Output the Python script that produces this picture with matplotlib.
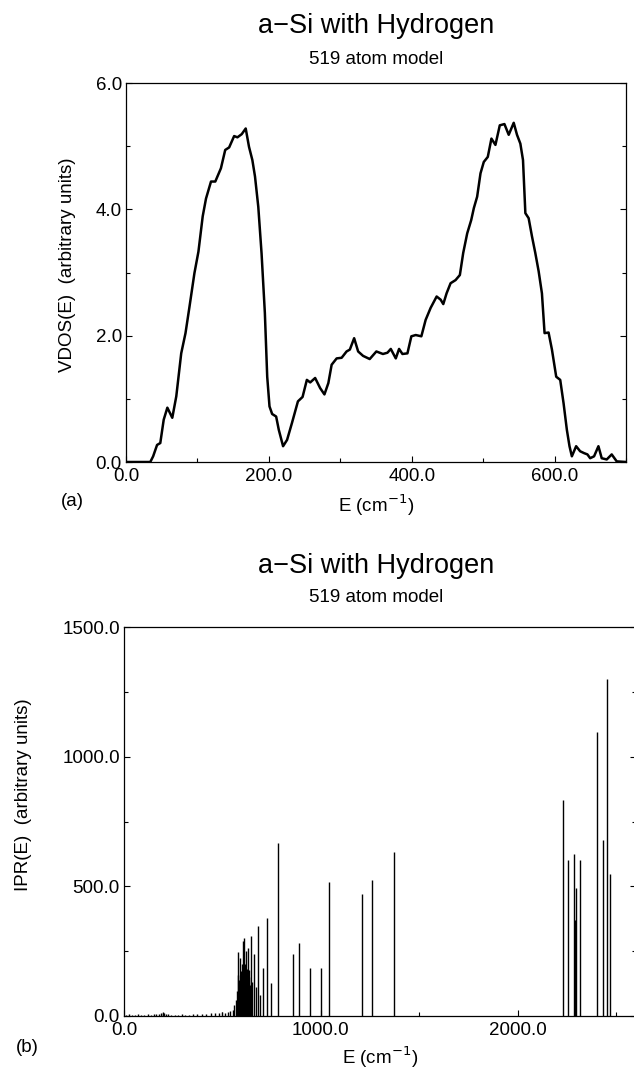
import matplotlib
matplotlib.use("Agg")
import matplotlib.pyplot as plt
from matplotlib.ticker import MultipleLocator, FormatStrFormatter

plt.rcParams['font.family'] = ['Liberation Sans', 'DejaVu Sans']

# (a) vibrational density of states
vdos_E = [0, 34, 38, 43.5, 48, 52.8, 57.9, 64.8, 70.4, 77.3, 83.3, 88.9, 95.8, 101.4,
          107.4, 112, 119, 125, 132.9, 138.9, 144.4, 151.4, 156, 162, 167.6, 172.2,
          176.9, 180.6, 185.2, 189.8, 194.4, 197.7, 200.9, 204.6, 210.2, 213.9, 219.9,
          225.5, 232.4, 240.7, 247.2, 253.2, 257.9, 264.8, 271.8, 277.8, 283.3, 287.9,
          294.9, 301.9, 308.8, 313.4, 319.4, 325, 331.9, 341.2, 350.5, 359.7, 366,
          370.7, 377.7, 382.3, 387, 394, 399.5, 405.6, 413.5, 419.5, 426.5, 434.9,
          440.5, 444.2, 448.8, 454.4, 461.4, 467.4, 472.1, 477.7, 483.3, 487, 491.6,
          496.3, 500.9, 506.5, 511.6, 517.2, 523.3, 529.8, 535.8, 542.8, 547.4, 552.1,
          555.8, 559.1, 563.7, 568.4, 573, 577.7, 582.3, 586, 591.6, 596.3, 602.3,
          607.9, 612.6, 617.2, 620.9, 624.2, 630.2, 635.8, 641.4, 646, 649.8, 655.3,
          661.4, 666, 673, 680, 687, 700]
vdos_v = [0, 0, 0.09, 0.27, 0.30, 0.67, 0.86, 0.70, 1.04, 1.72, 2.04, 2.46, 2.99, 3.33,
          3.89, 4.17, 4.44, 4.44, 4.65, 4.94, 4.98, 5.16, 5.14, 5.19, 5.28, 4.99,
          4.78, 4.52, 4.04, 3.30, 2.36, 1.35, 0.88, 0.76, 0.72, 0.51, 0.25,
          0.35, 0.62, 0.96, 1.03, 1.30, 1.26, 1.33, 1.17, 1.07, 1.25, 1.54,
          1.64, 1.65, 1.75, 1.78, 1.96, 1.75, 1.68, 1.63, 1.75, 1.71, 1.73,
          1.79, 1.64, 1.79, 1.71, 1.72, 1.99, 2.01, 1.99, 2.25, 2.44, 2.62,
          2.57, 2.50, 2.67, 2.83, 2.88, 2.96, 3.31, 3.62, 3.83, 4.02, 4.20,
          4.57, 4.75, 4.83, 5.12, 5.02, 5.33, 5.35, 5.18, 5.37, 5.18, 5.04,
          4.78, 3.94, 3.86, 3.57, 3.31, 3.02, 2.67, 2.04, 2.05, 1.78, 1.35,
          1.30, 0.93, 0.51, 0.25, 0.09, 0.25, 0.17, 0.14, 0.12, 0.06, 0.09,
          0.25, 0.06, 0.04, 0.12, 0.01, 0.0]

# (b) inverse participation ratio per mode
ipr_E = [12, 25, 40, 55, 70, 88, 104, 120, 136, 150, 165, 180, 190, 196, 200, 205, 212,
         225, 240, 258, 275, 292, 310, 330, 350, 372, 395, 418, 440, 460, 480, 500,
         515, 528, 540, 552, 561, 569, 573, 577, 581, 585, 589, 592, 596, 599, 603,
         606, 608, 611, 614, 616, 619, 622, 625, 628, 630, 633, 637, 641, 645, 652,
         660, 668, 680, 692, 704, 727, 747, 780, 858, 887, 943, 1002, 1042, 1210,
         1258, 1369, 2230, 2254, 2284, 2289, 2291, 2295, 2315, 2400, 2431, 2455, 2468]
ipr_h = [5, 6, 4, 5, 6, 5, 4, 6, 5, 7, 8, 9, 12, 14, 11, 12, 8,
         6, 5, 4, 5, 6, 4, 5, 6, 7, 8, 9, 10, 12, 11, 14,
         13, 16, 18, 23, 42, 62, 95, 248, 160, 140, 223, 175, 150, 200, 290,
         180, 300, 170, 190, 201, 160, 249, 180, 262, 140, 177, 150, 120, 309, 130,
         239, 110, 347, 80, 185, 378, 127, 667, 239, 283, 185, 186, 518, 472,
         523, 632, 832, 600, 626, 346, 370, 495, 600, 1094, 677, 1299, 549]

fig = plt.figure(figsize=(6.34, 10.69), dpi=100)

def style(ax):
    ax.tick_params(which="both", direction="in", top=False, right=True, labelsize=13.5)
    ax.tick_params(axis="x", pad=4)
    ax.tick_params(axis="y", pad=3)
    ax.tick_params(which="major", length=4, width=0.8)
    ax.tick_params(which="minor", length=3, width=0.8)
    for s in ax.spines.values():
        s.set_linewidth(0.9)

# ---- panel (a)
ax1 = fig.add_axes([126/634, 1 - 462/1069, 500/634, 379/1069])
ax1.plot(vdos_E, vdos_v, color="black", lw=1.8)
ax1.set_xlim(0, 700)
ax1.set_ylim(0, 6)
ax1.xaxis.set_major_locator(MultipleLocator(200))
ax1.xaxis.set_minor_locator(MultipleLocator(100))
ax1.yaxis.set_major_locator(MultipleLocator(2))
ax1.yaxis.set_minor_locator(MultipleLocator(1))
ax1.xaxis.set_major_formatter(FormatStrFormatter("%.1f"))
ax1.yaxis.set_major_formatter(FormatStrFormatter("%.1f"))
style(ax1)
ax1.set_xlabel("E (cm$^{-1}$)", fontsize=13.5, labelpad=6)
ax1.set_ylabel("VDOS(E)  (arbitrary units)", fontsize=13.5)
ax1.yaxis.set_label_coords(-0.10, 0.52)
fig.text(376/634, 1 - 26/1069, "a\u2212Si with Hydrogen", fontsize=19.5, ha="center", va="center")
fig.text(376/634, 1 - 59/1069, "519 atom model", fontsize=13.5, ha="center", va="center")
fig.text(72/634, 1 - 502/1069, "(a)", fontsize=13.5, ha="center", va="center")

# ---- panel (b)
ax2 = fig.add_axes([124/634, 53/1069, 512/634, 389/1069])
ax2.vlines(ipr_E, 0, ipr_h, color="black", lw=1.0)
ax2.set_xlim(0, 2600)
ax2.set_ylim(0, 1500)
ax2.xaxis.set_major_locator(MultipleLocator(1000))
ax2.xaxis.set_minor_locator(MultipleLocator(500))
ax2.yaxis.set_major_locator(MultipleLocator(500))
ax2.yaxis.set_minor_locator(MultipleLocator(250))
ax2.xaxis.set_major_formatter(FormatStrFormatter("%.1f"))
ax2.yaxis.set_major_formatter(FormatStrFormatter("%.1f"))
style(ax2)
ax2.set_xlabel("E (cm$^{-1}$)", fontsize=13.5, labelpad=4)
ax2.set_ylabel("IPR(E)  (arbitrary units)", fontsize=13.5)
ax2.yaxis.set_label_coords(-0.18, 0.57)
fig.text(376/634, 1 - 566/1069, "a\u2212Si with Hydrogen", fontsize=19.5, ha="center", va="center")
fig.text(376/634, 1 - 598/1069, "519 atom model", fontsize=13.5, ha="center", va="center")
fig.text(27/634, 1 - 1048/1069, "(b)", fontsize=13.5, ha="center", va="center")

fig.savefig("out.png", dpi=100)
